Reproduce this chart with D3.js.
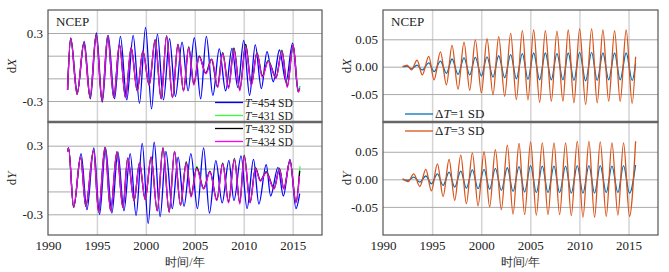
<!DOCTYPE html>
<html>
<head>
<meta charset="utf-8">
<script src="https://cdn.jsdelivr.net/npm/d3@7"></script>
<style>
    body { margin: 0; background: #fff; }
    svg text { font-family: "Liberation Serif", "Times New Roman", serif; }
</style>
</head>
<body>
<svg id="drawing_region"></svg>
<script>
// years shown on the time axis
const yearTicks = [1990, 1995, 2000, 2005, 2010, 2015];

// left panels: [year, value] at the turning points of each curve
const dxT454 = [[1992.0,-0.20],[1992.32,0.255],[1993.0,-0.22],[1993.7,0.225],[1994.33,-0.28],[1994.95,0.30],[1995.55,-0.31],[1996.15,0.28],[1996.8,-0.28],[1997.4,0.27],[1998.05,-0.29],[1998.7,0.28],[1999.35,-0.32],[1999.97,0.35],[2000.58,-0.37],[2001.18,0.29],[2001.8,-0.29],[2002.42,0.25],[2003.02,-0.26],[2003.7,0.22],[2004.32,-0.21],[2004.95,0.26],[2005.6,-0.28],[2006.18,0.27],[2006.85,-0.25],[2007.5,0.16],[2008.15,-0.21],[2008.8,0.165],[2009.4,-0.18],[2010.0,0.235],[2010.6,-0.25],[2011.18,0.195],[2011.8,-0.19],[2012.38,0.135],[2013.02,-0.13],[2013.65,0.15],[2014.32,-0.13],[2015.0,0.21],[2015.57,-0.22],[2015.72,-0.17]];
const dxEarly = [[1992.0,-0.20],[1992.32,0.255],[1992.97,-0.24],[1993.67,0.215],[1994.3,-0.27],[1994.92,0.285],[1995.52,-0.30],[1996.1,0.275],[1996.72,-0.27],[1997.3,0.20],[1997.92,-0.27],[1998.5,0.17],[1999.12,-0.21],[1999.7,0.14],[2000.34,-0.16],[2000.95,0.24],[2001.56,-0.28],[2002.12,0.275],[2002.72,-0.27],[2003.28,0.20],[2003.85,-0.21]];
const dxT431 = dxEarly.concat([[2004.38,0.18],[2004.9,-0.14],[2005.45,0.10],[2006.1,-0.05],[2006.7,0.07],[2007.3,-0.17],[2007.85,0.13],[2008.45,-0.17],[2009.0,0.17],[2009.6,-0.19],[2010.2,0.20],[2010.78,-0.15],[2011.35,0.13],[2011.9,-0.07],[2012.5,0.06],[2013.3,-0.09],[2013.9,0.15],[2014.45,-0.16],[2015.05,0.19],[2015.58,-0.21],[2015.72,-0.17]]);
const dxT432 = dxEarly.concat([[2004.38,0.175],[2004.9,-0.15],[2005.45,0.095],[2006.12,-0.055],[2006.72,0.07],[2007.32,-0.175],[2007.85,0.125],[2008.45,-0.18],[2009.0,0.165],[2009.6,-0.20],[2010.2,0.20],[2010.78,-0.155],[2011.35,0.125],[2011.9,-0.08],[2012.5,0.055],[2013.3,-0.095],[2013.9,0.145],[2014.45,-0.17],[2015.05,0.19],[2015.58,-0.215],[2015.72,-0.19]]);
const dxT434 = dxEarly.concat([[2004.38,0.17],[2004.9,-0.16],[2005.45,0.09],[2006.15,-0.06],[2006.75,0.07],[2007.35,-0.18],[2007.85,0.12],[2008.45,-0.19],[2009.0,0.155],[2009.6,-0.21],[2010.2,0.18],[2010.78,-0.16],[2011.35,0.12],[2011.9,-0.09],[2012.5,0.05],[2013.3,-0.10],[2013.9,0.14],[2014.45,-0.18],[2015.05,0.19],[2015.58,-0.22],[2015.72,-0.19]]);

const dyT454 = [[1992.0,0.25],[1992.1,0.28],[1992.62,-0.24],[1993.38,0.23],[1993.98,-0.26],[1994.68,0.28],[1995.27,-0.30],[1995.88,0.28],[1996.53,-0.29],[1997.14,0.245],[1997.76,-0.27],[1998.4,0.23],[1999.0,-0.31],[1999.63,0.32],[2000.24,-0.38],[2000.85,0.33],[2001.46,-0.32],[2002.05,0.25],[2002.7,-0.25],[2003.3,0.20],[2003.9,-0.23],[2004.6,0.23],[2005.27,-0.25],[2005.9,0.28],[2006.5,-0.29],[2007.15,0.17],[2007.8,-0.20],[2008.48,0.17],[2009.0,-0.18],[2009.73,0.21],[2010.34,-0.25],[2011.0,0.18],[2011.55,-0.21],[2012.3,0.135],[2012.75,-0.14],[2013.5,0.11],[2014.05,-0.14],[2014.73,0.18],[2015.34,-0.25],[2015.72,-0.12]];
const dyEarly = [[1992.0,0.25],[1992.1,0.28],[1992.62,-0.24],[1993.33,0.20],[1993.86,-0.23],[1994.66,0.26],[1995.17,-0.28],[1995.82,0.285],[1996.4,-0.27],[1997.04,0.245],[1997.65,-0.24],[1998.15,0.19],[1998.8,-0.18],[1999.35,0.15],[1999.93,-0.17],[2000.54,0.20],[2001.16,-0.27],[2001.75,0.28],[2002.38,-0.28],[2002.93,0.25],[2003.54,-0.22]];
const dyT431 = dyEarly.concat([[2004.13,0.16],[2004.62,-0.13],[2005.2,0.12],[2005.9,-0.07],[2006.55,0.08],[2007.25,-0.17],[2007.85,0.15],[2008.45,-0.18],[2009.05,0.19],[2009.6,-0.19],[2010.05,0.22],[2010.65,-0.19],[2011.2,0.11],[2011.7,0.0],[2012.3,0.075],[2013.1,-0.07],[2013.65,0.105],[2014.1,-0.07],[2014.73,0.17],[2015.34,-0.19],[2015.75,0.12]]);
const dyT432 = dyEarly.concat([[2004.13,0.155],[2004.62,-0.14],[2005.2,0.11],[2005.9,-0.075],[2006.55,0.075],[2007.25,-0.175],[2007.85,0.145],[2008.45,-0.19],[2009.05,0.185],[2009.6,-0.20],[2010.05,0.215],[2010.65,-0.195],[2011.2,0.105],[2011.7,-0.005],[2012.3,0.07],[2013.1,-0.075],[2013.65,0.10],[2014.1,-0.075],[2014.73,0.17],[2015.34,-0.195],[2015.72,0.08]]);
const dyT434 = dyEarly.concat([[2004.13,0.15],[2004.62,-0.15],[2005.2,0.10],[2005.9,-0.08],[2006.55,0.07],[2007.25,-0.18],[2007.85,0.14],[2008.45,-0.20],[2009.05,0.18],[2009.6,-0.21],[2010.05,0.21],[2010.65,-0.20],[2011.2,0.10],[2011.7,-0.01],[2012.3,0.065],[2013.1,-0.08],[2013.65,0.095],[2014.1,-0.08],[2014.73,0.17],[2015.34,-0.20],[2015.7,0.035]]);

// right panels: differences for dT = 1 SD and 3 SD
const dxD1 = [[1992.0,0],[1992.46,0.001],[1992.9,-0.004],[1993.47,0.003],[1994.0,-0.006],[1994.66,0.007],[1995.2,-0.009],[1995.85,0.010],[1996.46,-0.012],[1997.03,0.014],[1997.64,-0.014],[1998.25,0.016],[1998.83,-0.015],[1999.4,0.017],[2000.02,-0.017],[2000.59,0.018],[2001.2,-0.019],[2001.78,0.020],[2002.39,-0.020],[2003.0,0.022],[2003.58,-0.022],[2004.19,0.024],[2004.76,-0.023],[2005.34,0.025],[2005.95,-0.024],[2006.53,0.025],[2007.14,-0.024],[2007.71,0.024],[2008.32,-0.024],[2008.86,0.025],[2009.44,-0.025],[2010.02,0.026],[2010.63,-0.026],[2011.24,0.026],[2011.81,-0.025],[2012.39,0.025],[2012.98,-0.024],[2013.58,0.025],[2014.15,-0.024],[2014.76,0.025],[2015.37,-0.025],[2015.72,0.006]];
const dxD3 = [[1992.0,0],[1992.46,0.003],[1992.9,-0.006],[1993.47,0.012],[1994.0,-0.015],[1994.66,0.019],[1995.2,-0.024],[1995.85,0.027],[1996.46,-0.033],[1997.03,0.039],[1997.64,-0.041],[1998.25,0.045],[1998.83,-0.043],[1999.4,0.049],[2000.02,-0.048],[2000.59,0.051],[2001.2,-0.051],[2001.78,0.055],[2002.39,-0.054],[2003.0,0.061],[2003.58,-0.060],[2004.19,0.066],[2004.76,-0.061],[2005.34,0.067],[2005.95,-0.065],[2006.53,0.066],[2007.14,-0.063],[2007.71,0.065],[2008.32,-0.063],[2008.86,0.067],[2009.44,-0.066],[2010.02,0.069],[2010.63,-0.069],[2011.24,0.069],[2011.81,-0.066],[2012.39,0.067],[2012.98,-0.063],[2013.58,0.066],[2014.15,-0.063],[2014.76,0.067],[2015.37,-0.067],[2015.72,0.018]];
const dyD1 = [[1992.0,0],[1992.56,-0.002],[1993.14,0.004],[1993.75,-0.005],[1994.36,0.006],[1994.93,-0.008],[1995.54,0.010],[1996.12,-0.011],[1996.73,0.013],[1997.3,-0.014],[1997.92,0.015],[1998.49,-0.016],[1999.1,0.017],[1999.68,-0.017],[2000.29,0.018],[2000.86,-0.018],[2001.44,0.020],[2002.05,-0.020],[2002.66,0.021],[2003.24,-0.022],[2003.85,0.023],[2004.42,-0.023],[2005.03,0.025],[2005.61,-0.024],[2006.22,0.024],[2006.8,-0.024],[2007.41,0.024],[2007.98,-0.024],[2008.59,0.024],[2009.17,-0.025],[2009.78,0.025],[2010.36,-0.025],[2010.97,0.025],[2011.54,-0.025],[2012.12,0.025],[2012.73,-0.024],[2013.31,0.024],[2013.92,-0.024],[2014.49,0.025],[2015.1,-0.025],[2015.72,0.026]];
const dyD3 = [[1992.0,0.001],[1992.56,-0.004],[1993.14,0.010],[1993.75,-0.013],[1994.36,0.018],[1994.93,-0.021],[1995.54,0.028],[1996.12,-0.031],[1996.73,0.036],[1997.3,-0.038],[1997.92,0.044],[1998.49,-0.044],[1999.1,0.048],[1999.68,-0.048],[2000.29,0.050],[2000.86,-0.050],[2001.44,0.054],[2002.05,-0.055],[2002.66,0.062],[2003.24,-0.063],[2003.85,0.065],[2004.42,-0.064],[2005.03,0.068],[2005.61,-0.065],[2006.22,0.066],[2006.8,-0.064],[2007.41,0.066],[2007.98,-0.064],[2008.59,0.066],[2009.17,-0.066],[2009.78,0.069],[2010.36,-0.069],[2010.97,0.069],[2011.54,-0.069],[2012.12,0.068],[2012.73,-0.067],[2013.31,0.066],[2013.92,-0.065],[2014.49,0.066],[2015.1,-0.067],[2015.72,0.069]];

const leftNames  = ['454', '431', '432', '434'];
const leftColors = ['#0000ff', '#33ff33', '#000000', '#ff00ff'];
const rightNames  = ['1', '3'];
const rightColors = ['#0072bd', '#d95319'];

const width  = 669;
const height = 272;

const svg = d3.select('#drawing_region')
    .attr('width', width)
    .attr('height', height);

const panels = [
    { x0: 48,  x1: 322, y0: 10,  y1: 122, dom: [-0.485, 0.503], grid: [-0.3, -0.1, 0.1, 0.3], ticks: [-0.3, 0.3], fmt: 1,
      label: 'X', series: [dxT454, dxT431, dxT432, dxT434], colors: leftColors, ncep: true },
    { x0: 48,  x1: 322, y0: 122, y1: 235, dom: [-0.481, 0.507], grid: [-0.3, -0.1, 0.1, 0.3], ticks: [-0.3, 0.3], fmt: 1,
      label: 'Y', series: [dyT454, dyT431, dyT432, dyT434], colors: leftColors, xaxis: true },
    { x0: 383, x1: 658, y0: 10,  y1: 122, dom: [-0.101, 0.1035], grid: [-0.05, 0, 0.05], ticks: [-0.05, 0, 0.05], fmt: 2,
      label: 'X', series: [dxD1, dxD3], colors: rightColors, ncep: true },
    { x0: 383, x1: 658, y0: 122, y1: 235, dom: [-0.101, 0.104], grid: [-0.05, 0, 0.05], ticks: [-0.05, 0, 0.05], fmt: 2,
      label: 'Y', series: [dyD1, dyD3], colors: rightColors, xaxis: true }
];

panels.forEach(p => {
    const xscale = d3.scaleLinear().domain([1990, 2018]).range([p.x0, p.x1]);
    const yscale = d3.scaleLinear().domain(p.dom).range([p.y1, p.y0]);
    const g = svg.append('g');

    // vertical grid
    g.append('g')
        .attr('transform', `translate(0, ${p.y1})`)
        .call(d3.axisBottom(xscale).tickValues(yearTicks.slice(1)).tickSize(-(p.y1 - p.y0)).tickFormat(''))
        .call(a => a.select('.domain').remove())
        .selectAll('line').attr('stroke', '#d4d4d4').attr('stroke-width', 1.5);

    // horizontal grid
    g.append('g')
        .attr('transform', `translate(${p.x0}, 0)`)
        .call(d3.axisLeft(yscale).tickValues(p.grid).tickSize(-(p.x1 - p.x0)).tickFormat(''))
        .call(a => a.select('.domain').remove())
        .selectAll('line').attr('stroke', '#a9a9a9').attr('stroke-width', 1);

    // y tick labels
    g.append('g')
        .attr('transform', `translate(${p.x0}, 0)`)
        .call(d3.axisLeft(yscale).tickValues(p.ticks).tickSize(0).tickPadding(5)
            .tickFormat(d => d.toFixed(p.fmt)))
        .call(a => a.select('.domain').remove())
        .selectAll('text')
        .attr('font-family', '"Liberation Serif", serif')
        .attr('font-size', '13px')
        .attr('fill', '#222');

    const line = d3.line()
        .x(d => xscale(d[0]))
        .y(d => yscale(d[1]))
        .curve(d3.curveMonotoneX);

    p.series.forEach((s, i) => {
        g.append('path')
            .datum(s)
            .attr('d', line)
            .attr('fill', 'none')
            .attr('stroke', p.colors[i])
            .attr('stroke-width', 1.3);
    });

    // frame
    g.append('rect')
        .attr('x', p.x0).attr('y', p.y0)
        .attr('width', p.x1 - p.x0).attr('height', p.y1 - p.y0)
        .attr('fill', 'none')
        .attr('stroke', '#555')
        .attr('stroke-width', 1.2);

    if (p.ncep) {
        g.append('text')
            .attr('x', p.x0 + 8)
            .attr('y', p.y0 + 16)
            .attr('font-size', '13px')
            .attr('fill', '#222')
            .text('NCEP');
    }

    const lab = g.append('text')
        .attr('transform', `translate(${p.x0 - 32}, ${(p.y0 + p.y1) / 2}) rotate(-90)`)
        .attr('text-anchor', 'middle')
        .attr('font-size', '13px')
        .attr('fill', '#222');
    lab.append('tspan').text('d');
    lab.append('tspan').attr('font-style', 'italic').text(p.label);

    if (p.xaxis) {
        g.append('g')
            .attr('transform', `translate(0, ${p.y1})`)
            .call(d3.axisBottom(xscale).tickValues(yearTicks).tickSize(0).tickPadding(6).tickFormat(d3.format('d')))
            .call(a => a.select('.domain').remove())
            .selectAll('text')
            .attr('font-family', '"Liberation Serif", serif')
            .attr('font-size', '13px')
            .attr('fill', '#222');

        g.append('text')
            .attr('x', (p.x0 + p.x1) / 2)
            .attr('y', 266)
            .attr('text-anchor', 'middle')
            .attr('font-family', '"Noto Sans CJK SC", sans-serif')
            .attr('font-size', '12px')
            .attr('fill', '#333')
            .text('时间/年');
    }
});

// thick separators between the stacked panels
[[48, 322], [383, 658]].forEach(r => {
    svg.append('line')
        .attr('x1', r[0]).attr('x2', r[1])
        .attr('y1', 122).attr('y2', 122)
        .attr('stroke', '#666')
        .attr('stroke-width', 2.5);
});

// legends
function legend(x, y0, step, names, colors, delta, size) {
    names.forEach((n, i) => {
        const y = y0 + i * step;
        svg.append('line')
            .attr('x1', x).attr('x2', x + 28)
            .attr('y1', y).attr('y2', y)
            .attr('stroke', colors[i])
            .attr('stroke-width', 1.3);
        const t = svg.append('text')
            .attr('x', x + 30)
            .attr('y', y + 4)
            .attr('font-size', size)
            .attr('fill', '#222');
        if (delta) t.append('tspan').text('Δ');
        t.append('tspan').attr('font-style', 'italic').text('T');
        t.append('tspan').text('=' + n + ' SD');
    });
}
legend(215, 102.5, 13, leftNames, leftColors, false, '11.5px');
legend(405, 114, 17, rightNames, rightColors, true, '13px');
</script>
</body>
</html>
